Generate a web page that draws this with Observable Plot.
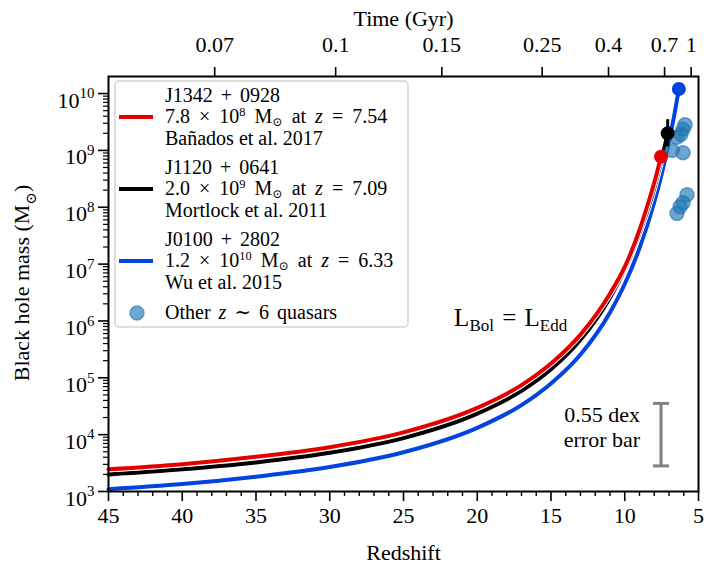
<!DOCTYPE html>
<html><head><meta charset="utf-8">
<script src="https://cdn.jsdelivr.net/npm/d3@7"></script>
<script src="https://cdn.jsdelivr.net/npm/@observablehq/plot@0.6"></script>
<style>body{margin:0;background:#fff} #chart{width:705px;height:572px}</style>
</head><body><div id="chart"></div>
<script>
// ---- data ----
const redZ    = [45, 40, 35, 30, 25, 20, 17, 15, 13, 11, 10, 9, 8.5, 8, 7.54];
const redLogM = [3.39, 3.48, 3.61, 3.78, 4.04, 4.47, 4.87, 5.25, 5.76, 6.48, 6.95, 7.6, 8.0, 8.43, 8.89];
const blackZ    = [45, 40, 35, 30, 25, 20, 17, 15, 13, 11, 10, 9, 8, 7.5, 7.09];
const blackLogM = [3.30, 3.39, 3.51, 3.68, 3.94, 4.37, 4.77, 5.15, 5.67, 6.41, 6.91, 7.54, 8.34, 8.84, 9.30];
const blueZ    = [45, 40, 35, 30, 25, 20, 17, 15, 13, 11, 10, 9, 8, 7.5, 7, 6.6, 6.33];
const blueLogM = [3.04, 3.13, 3.26, 3.43, 3.69, 4.12, 4.52, 4.90, 5.41, 6.15, 6.65, 7.28, 8.09, 8.58, 9.16, 9.68, 10.08];
const quasarNames = ["J1342 + 0928", "J1120 + 0641", "J0100 + 2802"];
const quasarZ = [7.54, 7.09, 6.33];
const quasarLogM = [8.89, 9.30, 10.08];
const quasarColors = ["#e50000", "#000000", "#0343df"];
const blackErrLogM = [9.06, 9.54];
const otherZ    = [5.91, 6.05, 6.19, 6.46, 6.78, 6.05, 5.78, 6.05, 6.25, 6.46];
const otherLogM = [9.45, 9.37, 9.28, 9.23, 9.00, 8.96, 8.22, 8.08, 8.01, 7.89];
const errBarZ = 7.54, errBarCenterLogM = 4.0, errBarDex = 0.55;
const xTicksMajor = [45, 40, 35, 30, 25, 20, 15, 10, 5];
const timeTickZ = [37.8, 29.6, 22.4, 15.6, 11.1, 7.3, 5.5];
const timeLabels = ["0.07", "0.1", "0.15", "0.25", "0.4", "0.7", "1"];
const yExponents = [3, 4, 5, 6, 7, 8, 9, 10];

// ---- tables ----
const toRows = (zs, ls) => zs.map((z, i) => ({z, m: 10 ** ls[i]}));
const red = toRows(redZ, redLogM), black = toRows(blackZ, blackLogM), blue = toRows(blueZ, blueLogM);
const quasars = quasarZ.map((z, i) => ({z, m: 10 ** quasarLogM[i], c: quasarColors[i]}));
const others = toRows(otherZ, otherLogM);
const xMinor = d3.range(5, 46, 1).filter(d => d % 5 !== 0);
const yMajor = yExponents.map(e => 10 ** e);
const yMinor = [];
for (const e of yExponents.slice(0, -1)) for (let k = 2; k <= 9; k++) yMinor.push(k * 10 ** e);
const capSymbol = {draw(ctx, size) { const w = Math.sqrt(size / Math.PI); ctx.moveTo(-w, 0); ctx.lineTo(w, 0); }};
const errRow = [{z: errBarZ, lo: 10 ** (errBarCenterLogM - errBarDex), hi: 10 ** (errBarCenterLogM + errBarDex)}];

const FONT = "'Liberation Serif', 'DejaVu Serif', serif";
const lineMarks = (rows, color) => [
  Plot.line(rows, {x: "z", y: "m", stroke: "white", strokeWidth: 6, curve: "monotone-x"}),
  Plot.line(rows, {x: "z", y: "m", stroke: color, strokeWidth: 4, curve: "monotone-x"})
];

const plot = Plot.plot({
  width: 705, height: 572,
  marginLeft: 108, marginRight: 7, marginTop: 76, marginBottom: 81,
  style: {fontFamily: FONT, fontSize: "22px", background: "white", color: "black"},
  x: {domain: [45, 5]},
  y: {type: "log", domain: [1e3, 10 ** 10.3]},
  marks: [
    ...lineMarks(blue, quasarColors[2]),
    ...lineMarks(black, quasarColors[1]),
    ...lineMarks(red, quasarColors[0]),
    Plot.dot(others, {x: "z", y: "m", r: 7, fill: "#1f77b4", fillOpacity: 0.65, stroke: "#1f77b4", strokeOpacity: 0.6, strokeWidth: 1.5}),
    Plot.ruleX([{z: quasarZ[1], lo: 10 ** blackErrLogM[0], hi: 10 ** blackErrLogM[1]}], {x: "z", y1: "lo", y2: "hi", stroke: "black", strokeWidth: 3}),
    Plot.dot(quasars, {x: "z", y: "m", r: 7, fill: "c"}),
    Plot.ruleX(errRow, {x: "z", y1: "lo", y2: "hi", stroke: "#808080", strokeWidth: 3}),
    Plot.dot(errRow, {x: "z", y: "lo", r: 8, symbol: capSymbol, stroke: "#808080", strokeWidth: 3}),
    Plot.dot(errRow, {x: "z", y: "hi", r: 8, symbol: capSymbol, stroke: "#808080", strokeWidth: 3}),
    Plot.text(["0.55 dex\nerror bar"], {x: 8.96, y: 10 ** 4.15, textAnchor: "end", lineHeight: 1.15}),
    Plot.axisX({anchor: "bottom", ticks: xTicksMajor, tickSize: 10, tickPadding: 6, strokeWidth: 1.6, label: null, tickFormat: d => String(d)}),
    Plot.axisX({anchor: "bottom", ticks: xMinor, tickSize: 5, strokeWidth: 1.4, label: null, tickFormat: () => ""}),
    Plot.axisX({anchor: "top", ticks: timeTickZ, tickSize: 10, tickPadding: 15, strokeWidth: 1.6, label: null, tickFormat: d => timeLabels[timeTickZ.indexOf(d)]}),
    Plot.axisY({anchor: "left", ticks: yMajor, tickSize: 10, tickPadding: 4, strokeWidth: 1.6, label: null, tickFormat: d => String(Math.round(Math.log10(d)))}),
    Plot.axisY({anchor: "left", ticks: yMinor, tickSize: 5, strokeWidth: 1.2, label: null, tickFormat: () => ""}),
    Plot.text(["Redshift"], {frameAnchor: "bottom", lineAnchor: "middle", dy: 61}),
    Plot.text(["Time (Gyr)"], {frameAnchor: "top", lineAnchor: "middle", dy: -58}),
    Plot.frame({stroke: "black", strokeWidth: 2})
  ]
});
document.getElementById("chart").appendChild(plot);

// ---- rich text helper: baseline offset folded into the first tspan ----
const svg = d3.select(plot);
function rich(textSel, parts, fs, supK = 0.42, subK = 0.3, smallK = 0.68) {
  textSel.attr("dy", null);
  const base = 0.32 * fs;
  let cur = 0;
  parts.forEach(p => {
    const shift = base + (p.sup ? -supK * fs : p.sub ? subK * fs : 0);
    const ts = textSel.append("tspan").attr("dy", shift - cur).text(p.t);
    if (p.sup || p.sub) ts.attr("font-size", smallK * fs);
    if (p.it) ts.attr("font-style", "italic");
    cur = shift;
  });
  return textSel;
}

// y tick labels as powers of ten (major ticks only)
svg.selectAll('g[aria-label="y-axis tick label"] text').each(function () {
  const e = this.textContent.trim();
  if (!e) return;
  const t = d3.select(this).text("");
  rich(t, [{t: "10"}, {t: e, sup: true}], 22);
});

// y axis title
const yl = svg.append("text").attr("transform", "translate(22,283) rotate(-90)")
  .attr("text-anchor", "middle").attr("font-size", 22).attr("font-family", FONT);
rich(yl, [{t: "Black hole mass (M"}, {t: "⊙", sub: true}, {t: ")"}], 22);

// L_Bol = L_Edd
const xs = plot.scale("x"), ys = plot.scale("y");
const lb = svg.append("text").attr("x", xs.apply(17.7)).attr("y", ys.apply(10 ** 6.05))
  .attr("text-anchor", "middle").attr("font-size", 25).attr("font-family", FONT).attr("word-spacing", 2);
rich(lb, [{t: "L"}, {t: "Bol", sub: true}, {t: " = L"}, {t: "Edd", sub: true}], 25, 0.42, 0.22);

// legend
const LF = 20;
const lg = svg.append("g").attr("font-family", FONT).attr("font-size", LF).attr("text-anchor", "start");
lg.append("rect").attr("x", 115).attr("y", 81).attr("width", 293).attr("height", 246).attr("rx", 4)
  .attr("fill", "white").attr("fill-opacity", 0.85).attr("stroke", "#d3d3d3").attr("stroke-width", 1.5);
const legendRefs = ["Bañados et al. 2017", "Mortlock et al. 2011", "Wu et al. 2015"];
const legendMass = [["7.8 × 10", "8"], ["2.0 × 10", "9"], ["1.2 × 10", "10"]];
const legendZ = ["7.54", "7.09", "6.33"];
quasarNames.forEach((name, i) => {
  const y0 = 97 + i * 72;
  lg.append("line").attr("x1", 119).attr("x2", 153).attr("y1", y0 + 20).attr("y2", y0 + 20)
    .attr("stroke", quasarColors[i]).attr("stroke-width", 4);
  lg.append("text").attr("x", 165).attr("y", y0 - 1).attr("dy", "0.32em").attr("word-spacing", 3).text(name);
  const t2 = lg.append("text").attr("x", 165).attr("y", y0 + 20).attr("word-spacing", 4);
  rich(t2, [{t: legendMass[i][0]}, {t: legendMass[i][1], sup: true}, {t: " M"}, {t: "⊙", sub: true},
            {t: " at "}, {t: "z", it: true}, {t: " = " + legendZ[i]}], LF, 0.36, 0.14, 0.62);
  lg.append("text").attr("x", 165).attr("y", y0 + 42).attr("dy", "0.32em").text(legendRefs[i]);
});
lg.append("circle").attr("cx", 137).attr("cy", 313).attr("r", 7).attr("fill", "#1f77b4")
  .attr("fill-opacity", 0.65).attr("stroke", "#1f77b4").attr("stroke-opacity", 0.6).attr("stroke-width", 1.5);
const t4 = lg.append("text").attr("x", 165).attr("y", 313).attr("word-spacing", 3);
rich(t4, [{t: "Other "}, {t: "z", it: true}, {t: " ∼ 6 quasars"}], LF);
</script>
</body></html>
